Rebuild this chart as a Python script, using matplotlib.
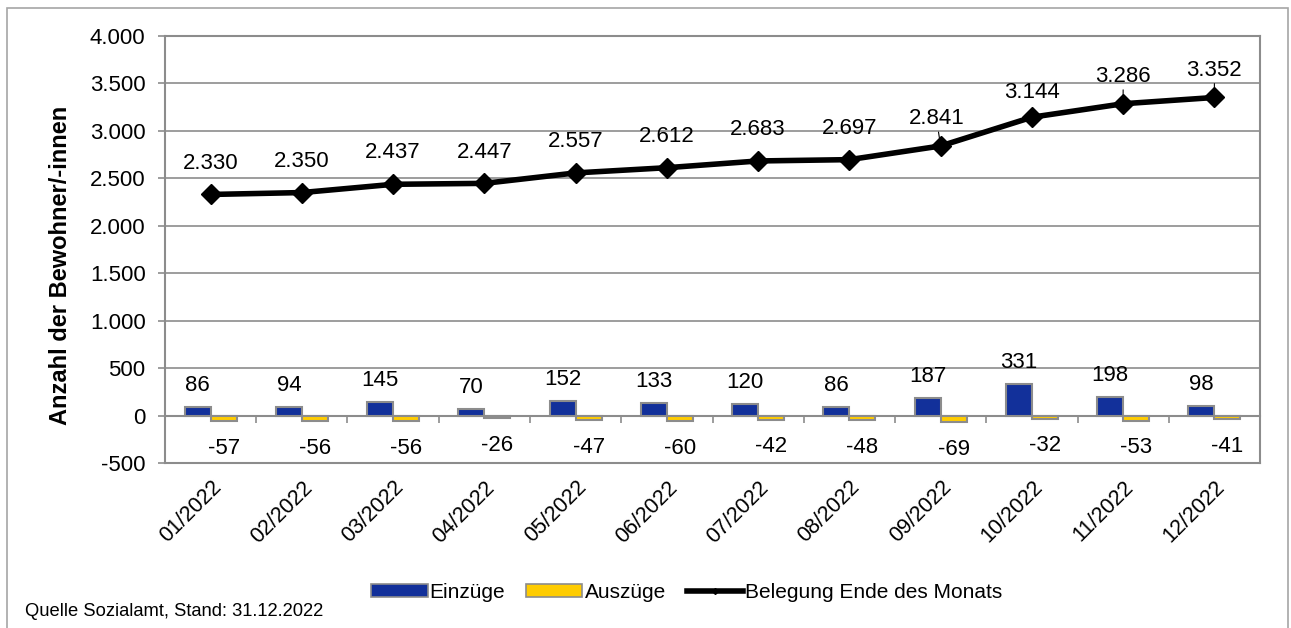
import numpy as np
import matplotlib
matplotlib.use('Agg')
from matplotlib import pyplot as plt
from matplotlib.patches import Patch, Rectangle
from matplotlib.lines import Line2D
from matplotlib.ticker import FuncFormatter

plt.rcParams['font.family'] = ['Liberation Sans', 'DejaVu Sans']

months = ['01/2022', '02/2022', '03/2022', '04/2022', '05/2022', '06/2022',
          '07/2022', '08/2022', '09/2022', '10/2022', '11/2022', '12/2022']
einzuege = [86, 94, 145, 70, 152, 133, 120, 86, 187, 331, 198, 98]
auszuege = [-57, -56, -56, -26, -47, -60, -42, -48, -69, -32, -53, -41]
belegung = [2330, 2350, 2437, 2447, 2557, 2612, 2683, 2697, 2841, 3144, 3286, 3352]

blue = '#12309a'
yellow = '#ffcc00'
grey = '#8c8c8c'
fontsize = 16


def fmt(v):
    return '{:,}'.format(int(v)).replace(',', '.')


fig = plt.figure(figsize=(12.91, 6.28), dpi=100)
fig.patches.append(Rectangle((7 / 1291, -0.05), 1281 / 1291, 1.05 - 8 / 628,
                             transform=fig.transFigure, fill=False,
                             edgecolor='#a6a6a6', lw=1.2))
ax = fig.add_axes([0.1278, 0.2627, 0.976 - 0.1278, 0.9427 - 0.2627])

x = np.arange(len(months))
width = 0.285
ax.bar(x - width / 2, einzuege, width, color=blue, edgecolor=grey, lw=1.5, zorder=3)
ax.bar(x + width / 2, auszuege, width, color=yellow, edgecolor=grey, lw=1.5, zorder=3)
ax.plot(x, belegung, color='black', lw=4, marker='D', markersize=10, zorder=4)

for i in range(len(months)):
    ax.annotate(str(einzuege[i]), (x[i] - width / 2, einzuege[i]), xytext=(0, 8),
                textcoords='offset points', ha='center', va='bottom', fontsize=fontsize)
    ax.annotate(str(auszuege[i]), (x[i] + width / 2, auszuege[i]), xytext=(0, -12),
                textcoords='offset points', ha='center', va='top', fontsize=fontsize)
    if i in (8, 10, 11):
        ax.annotate(fmt(belegung[i]), (x[i], belegung[i]), xytext=(-3 if i == 8 else 0, 12),
                    textcoords='offset points', ha='center', va='bottom', fontsize=fontsize,
                    arrowprops=dict(arrowstyle='-', color='black', lw=0.8,
                                    shrinkA=0, shrinkB=4))
    else:
        off = 10 if i == 9 else 15
        ax.annotate(fmt(belegung[i]), (x[i], belegung[i]), xytext=(0, off),
                    textcoords='offset points', ha='center', va='bottom', fontsize=fontsize)

ax.set_xlim(-0.5, len(months) - 0.5)
ax.set_ylim(-500, 4000)
ax.set_yticks(np.arange(-500, 4001, 500))
ax.yaxis.set_major_formatter(FuncFormatter(lambda v, p: fmt(v)))
ax.grid(axis='y', color=grey, lw=1.2, zorder=0)
ax.set_axisbelow(True)
for s in ax.spines.values():
    s.set_color(grey)
    s.set_linewidth(1.5)

ax.set_xticks(x)
ax.set_xticklabels(months, rotation=45, ha='right', rotation_mode='anchor')
ax.tick_params(axis='x', length=0, labelsize=15.5, pad=10)
ax.tick_params(axis='y', length=5, color=grey, width=1.2, labelsize=fontsize, pad=9)
fig.text(61 / 1291, 1 - 265 / 628, 'Anzahl der Bewohner/-innen', rotation=90,
         fontsize=17, fontweight='bold', ha='center', va='center')

# category axis at zero
zero_axis = ax.secondary_xaxis(500 / 4500)
zero_axis.set_xticks(np.arange(0.5, len(months) - 1, 1.0))
zero_axis.set_xticklabels([])
zero_axis.tick_params(length=5, color=grey, width=1.2, direction='out')
zero_axis.spines['bottom'].set_color(grey)
zero_axis.spines['bottom'].set_linewidth(1.5)

handles = [Patch(facecolor=blue, edgecolor=grey, lw=1.2),
           Patch(facecolor=yellow, edgecolor=grey, lw=1.2),
           Line2D([], [], color='black', lw=4, marker='D', markersize=3)]
fig.legend(handles, ['Einzüge', 'Auszüge', 'Belegung Ende des Monats'],
           loc='center', bbox_to_anchor=(0.532, 0.057), ncol=3, frameon=False,
           fontsize=15, handlelength=2.7, handleheight=0.55,
           handletextpad=0.1, columnspacing=1.0)

fig.text(25 / 1291, 1 - 612 / 628, 'Quelle Sozialamt, Stand: 31.12.2022',
         fontsize=13.2, va='center', ha='left')

plt.savefig('out.png', dpi=100)
